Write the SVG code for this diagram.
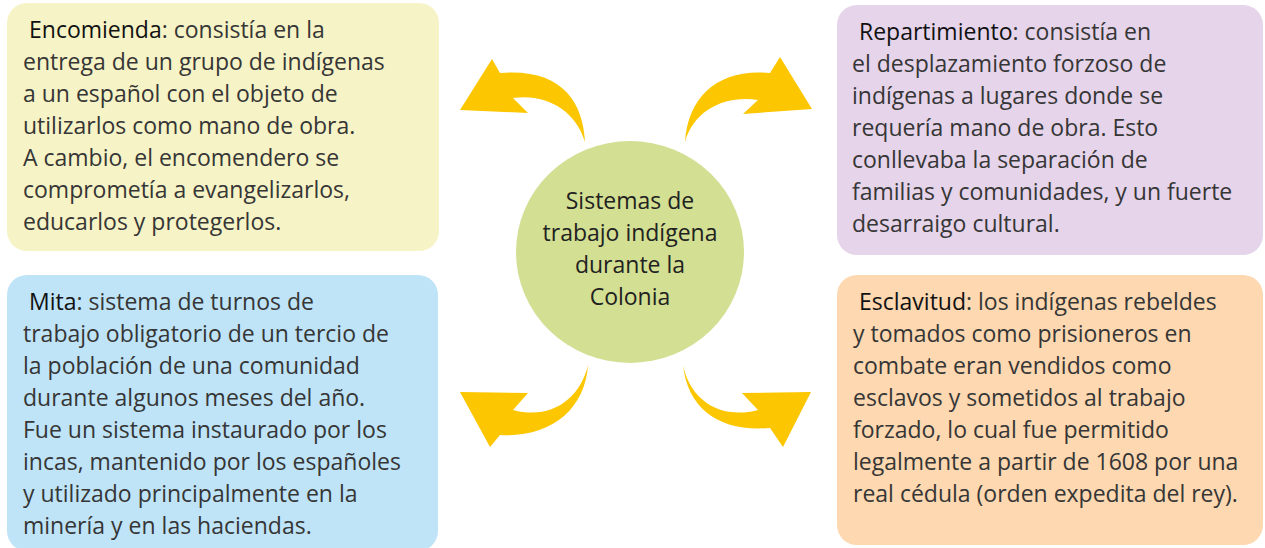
<svg xmlns="http://www.w3.org/2000/svg" width="1265" height="548" viewBox="0 0 1265 548">
<style>
  text { font-family: "Open Sans", "Noto Sans", sans-serif; font-size: 23px; fill: #363636; }
  .lbl { fill: #111111; }
  .center { text-anchor: middle; fill: #222222; }
  .arrow { fill: #fcc600; }
</style>
<rect width="1265" height="548" fill="#ffffff"/>
<g id="connectors">
  <path class="arrow" d="M 585 142 C 583 100, 560 68, 500 73 L 492 59 L 460 110 L 528 113 L 513 98 C 545 93, 576 110, 585 142 Z"/>
  <path class="arrow" d="M 685 142 C 688 95, 720 68, 770 73 L 780 57 L 812 109 L 743 114 L 758 100 C 725 95, 694 110, 685 142 Z"/>
  <path class="arrow" d="M 588 365 C 585 410, 550 438, 500 435 L 490 447 L 460 392 L 528 393 L 513 410 C 550 420, 580 400, 588 365 Z"/>
  <path class="arrow" d="M 683 365 C 688 410, 720 432, 770 428 L 783 447 L 811 392 L 742 393 L 758 410 C 720 420, 690 400, 683 365 Z"/>
</g>
<g id="center">
  <ellipse cx="630" cy="252" rx="114" ry="111" fill="#d3df92"/>
  <text class="center" x="630" y="209">Sistemas de</text>
  <text class="center" x="630" y="241">trabajo indígena</text>
  <text class="center" x="630" y="273">durante la</text>
  <text class="center" x="630" y="305">Colonia</text>
</g>
<g id="encomienda">
  <rect x="7" y="3" width="432" height="248" rx="20" fill="#f6f3c6"/>
  <text x="29" y="38"><tspan class="lbl">Encomienda</tspan>: consistía en la</text>
  <text x="23" y="70">entrega de un grupo de indígenas</text>
  <text x="23" y="102">a un español con el objeto de</text>
  <text x="23" y="134">utilizarlos como mano de obra.</text>
  <text x="23" y="166">A cambio, el encomendero se</text>
  <text x="23" y="198">comprometía a evangelizarlos,</text>
  <text x="23" y="230">educarlos y protegerlos.</text>
</g>
<g id="repartimiento">
  <rect x="837" y="5" width="426" height="250" rx="20" fill="#e5d4ea"/>
  <text x="859" y="40"><tspan class="lbl">Repartimiento</tspan>: consistía en</text>
  <text x="852" y="72">el desplazamiento forzoso de</text>
  <text x="852" y="104">indígenas a lugares donde se</text>
  <text x="852" y="136">requería mano de obra. Esto</text>
  <text x="852" y="168">conllevaba la separación de</text>
  <text x="852" y="200">familias y comunidades, y un fuerte</text>
  <text x="852" y="232">desarraigo cultural.</text>
</g>
<g id="mita">
  <rect x="7" y="275" width="431" height="276" rx="20" fill="#bfe4f8"/>
  <text x="29" y="310"><tspan class="lbl">Mita</tspan>: sistema de turnos de</text>
  <text x="23" y="342">trabajo obligatorio de un tercio de</text>
  <text x="23" y="374">la población de una comunidad</text>
  <text x="23" y="406">durante algunos meses del año.</text>
  <text x="23" y="438">Fue un sistema instaurado por los</text>
  <text x="23" y="470">incas, mantenido por los españoles</text>
  <text x="23" y="502">y utilizado principalmente en la</text>
  <text x="23" y="534">minería y en las haciendas.</text>
</g>
<g id="esclavitud">
  <rect x="837" y="275" width="426" height="270" rx="20" fill="#fdd8b1"/>
  <text x="859" y="310"><tspan class="lbl">Esclavitud</tspan>: los indígenas rebeldes</text>
  <text x="853" y="342">y tomados como prisioneros en</text>
  <text x="853" y="374">combate eran vendidos como</text>
  <text x="853" y="406">esclavos y sometidos al trabajo</text>
  <text x="853" y="438">forzado, lo cual fue permitido</text>
  <text x="853" y="470">legalmente a partir de 1608 por una</text>
  <text x="853" y="502">real cédula (orden expedita del rey).</text>
</g>
</svg>
